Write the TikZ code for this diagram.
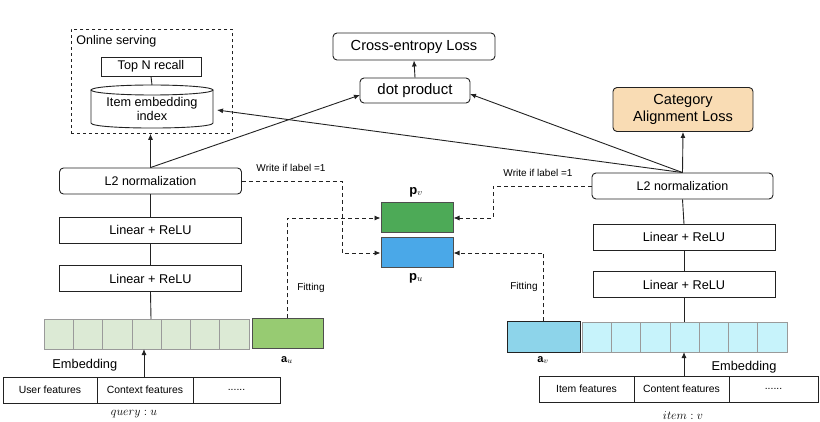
\documentclass[tikz,border=0pt]{standalone}
\usepackage{fontspec}
\setmainfont{Liberation Sans}
\usetikzlibrary{arrows.meta,calc}

\definecolor{cellgreen}{HTML}{DCEAD5}
\definecolor{augreen}{HTML}{97CB72}
\definecolor{pvgreen}{HTML}{4DAA57}
\definecolor{publue}{HTML}{4AA8E8}
\definecolor{avblue}{HTML}{8DD4EA}
\definecolor{cellblue}{HTML}{C7F3FB}
\definecolor{peach}{HTML}{F9DCB4}
\definecolor{cellline}{HTML}{9A9A9A}
\definecolor{ink}{HTML}{222222}

\newcommand{\fs}[1]{\fontsize{#1}{#1}\selectfont}

\begin{document}
\begin{tikzpicture}[x=1pt,y=-1pt,
  line width=0.9pt, draw=ink,
  tip/.style={-{Latex[length=6pt,width=5pt]}},
  roundbox/.style={draw=ink, fill=white, rounded corners=4pt, inner sep=0pt, anchor=center},
  layerbox/.style={draw=ink, fill=white, inner sep=0pt, anchor=center,
    minimum width=182pt, minimum height=26pt, font=\fs{12.7}},
  featcell/.style={draw=ink, fill=white, inner sep=0pt, anchor=center, minimum height=26pt, font=\fs{10.4}},
  embcell/.style={draw=cellline, line width=0.8pt, inner sep=0pt, anchor=center, minimum width=29.3pt, minimum height=30pt},
  vecbox/.style={draw=ink!80, line width=1pt, inner sep=0pt, anchor=center, minimum height=30pt},
  dashline/.style={dash pattern=on 4pt off 3pt, line width=0.9pt},
  smalltxt/.style={font=\fs{10}, inner sep=0pt},
  lbl/.style={font=\fs{12.8}, inner sep=0pt}
]
\useasboundingbox (0,0) rectangle (820,422);

% ---------------- online serving block ----------------
\node[draw=ink, dashed, line width=0.8pt, minimum width=161pt, minimum height=104pt, inner sep=0pt, anchor=north west] (online) at (71,29) {};
\node[anchor=west, font=\fs{12.5}, inner sep=0pt] (onlinetxt) at (76,41) {Online serving};
\node[draw=ink, fill=white, minimum width=100pt, minimum height=19pt, inner sep=0pt, font=\fs{12.6}] (topn) at (151,66.5) {Top N recall};
% cylinder for the item embedding index
\node[minimum width=122pt, minimum height=43pt, inner sep=0pt] (cyl) at (152,106.5) {};
\draw[draw=ink, fill=white] (91,90) -- (91,123) .. controls (91,129.7) and (213,129.7) .. (213,123) -- (213,90);
\draw[draw=ink, fill=white] (152,90) ellipse [x radius=61, y radius=5];
\node[font=\fs{12.7}, align=center, inner sep=0pt] (cyltxt) at (152,109) {Item embedding\\[1pt]index};
\draw (topn.south) -- (152,85);

% ---------------- losses ----------------
\node[roundbox, minimum width=162pt, minimum height=27pt, font=\fs{14.6}] (ce) at (414,46.5) {Cross-entropy Loss};
\node[roundbox, minimum width=110pt, minimum height=25pt, font=\fs{15}] (dot) at (415,90.5) {dot product};
\node[roundbox, fill=peach, minimum width=140pt, minimum height=44pt, font=\fs{14.6}, align=center] (cal) at (683,109.5) {Category\\[2pt]Alignment Loss};

% ---------------- query tower ----------------
\node[roundbox, minimum width=182pt, minimum height=26pt, font=\fs{12.5}] (l2u) at (150.5,181) {L2 normalization};
\node[layerbox] (linu1) at (150.5,230) {Linear + ReLU};
\node[layerbox] (linu2) at (150.5,278.5) {Linear + ReLU};
\foreach \i in {1,...,7} {
  \node[embcell, fill=cellgreen] (eu\i) at ({44+29.3*(\i-0.5)},334) {};
}
\node[vecbox, fill=augreen, minimum width=71pt] (au) at (287.5,334) {};
\node[lbl, font=\fs{11}] (aulbl) at (287,360) {$\mathbf{a}_u$};
\node[lbl, anchor=west] (embu) at (52,365) {Embedding};
\node[featcell, minimum width=94pt] (fu1) at (50,390) {User features};
\node[featcell, minimum width=96pt] (fu2) at (145,390) {Context features};
\node[featcell, minimum width=87pt] (fu3) at (236.5,390) {......};
\node[font=\fs{13}, inner sep=0pt] (qlbl) at (134,414) {$query:u$};

\draw (l2u.south) -- (linu1.north);
\draw (linu1.south) -- (linu2.north);
\draw (linu2.south) -- (151,319);
\draw[tip] (144,377) -- (144,349);
\draw[tip] (l2u.north) -- (online.south -| l2u.north);

% ---------------- item tower ----------------
\node[roundbox, minimum width=181pt, minimum height=26pt, font=\fs{12.5}] (l2v) at (682.5,186) {L2 normalization};
\node[layerbox] (linv1) at (684,237) {Linear + ReLU};
\node[layerbox] (linv2) at (684,284.5) {Linear + ReLU};
\node[vecbox, fill=avblue, draw=ink, minimum width=73pt] (av) at (543.5,337) {};
\foreach \i in {1,...,7} {
  \node[embcell, fill=cellblue] (ev\i) at ({582+29.3*(\i-0.5)},337) {};
}
\node[lbl, font=\fs{11}] (avlbl) at (543,360) {$\mathbf{a}_v$};
\node[lbl] (embv) at (744,367) {Embedding};
\node[featcell, minimum width=95pt] (fv1) at (586.5,389) {Item features};
\node[featcell, minimum width=95pt] (fv2) at (681.5,389) {Content features};
\node[featcell, minimum width=89pt] (fv3) at (773.5,389) {......};
\node[font=\fs{13}, inner sep=0pt] (vlbl) at (683,416) {$item:v$};

\draw (l2v.south) -- (684,224);
\draw (linv1.south) -- (linv2.north);
\draw (linv2.south) -- (684,322);
\draw[tip] (684,376) -- (684,352);
\draw[tip] (l2v.north) -- (cal.south);

% ---------------- centre vectors ----------------
\node[vecbox, fill=pvgreen, minimum width=72pt] (pv) at (417,218) {};
\node[vecbox, fill=publue, minimum width=72pt] (pu) at (417,253) {};
\node[lbl, font=\fs{13}] (pvlbl) at (416,192) {$\mathbf{p}_v$};
\node[lbl, font=\fs{13}] (pulbl) at (416,278) {$\mathbf{p}_u$};

% ---------------- solid connections to the top ----------------
\coordinate (dotin) at (360,95);
\coordinate (dotinr) at (470,94);
\coordinate (cylin) at (217,110);
\draw[tip] (l2u.north) -- (dotin);
\draw[tip] (l2v.north) -- (dotinr);
\draw[tip] (l2v.north) -- (cylin);
\draw[tip] (dot.north) -- (ce.south);

% ---------------- dashed writes and fittings ----------------
\coordinate (wu) at (342,220);
\coordinate (wv) at (493,200);
\draw[dashline, tip] (l2u.east) -| (wu) |- (pu.west);
\draw[dashline, tip] (au.north) |- (pv.west);
\draw[dashline, tip] (l2v.west) -| (wv) |- (pv.east);
\draw[dashline, tip] (av.north) |- (pu.east);

\node[smalltxt] (wlu) at (291,168) {Write if label =1};
\node[smalltxt] (wlv) at (538,173) {Write if label =1};
\node[smalltxt] (fitu) at (311,288) {Fitting};
\node[smalltxt] (fitv) at (524,287) {Fitting};
\end{tikzpicture}
\end{document}
